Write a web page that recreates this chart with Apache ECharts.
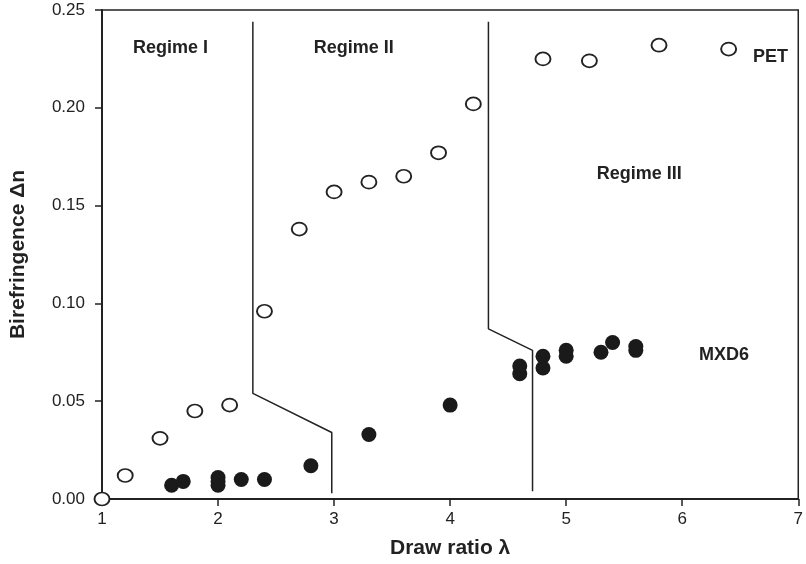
<!DOCTYPE html>
<html>
<head>
<meta charset="utf-8">
<script src="https://cdn.jsdelivr.net/npm/echarts@6/dist/echarts.min.js"></script>
<style>html,body{margin:0;padding:0;background:#fff}#c{width:806px;height:564px}</style>
</head>
<body>
<div id="c"></div>
<script>
// PET (open circles): [draw ratio, birefringence]
const petData = [
  [1.0, 0.000], [1.2, 0.012], [1.5, 0.031], [1.8, 0.045], [2.1, 0.048],
  [2.4, 0.096], [2.7, 0.138], [3.0, 0.157], [3.3, 0.162], [3.6, 0.165],
  [3.9, 0.177], [4.2, 0.202], [4.8, 0.225], [5.2, 0.224], [5.8, 0.232], [6.4, 0.230]
];
// MXD6 (filled circles)
const mxd6Data = [
  [1.6, 0.007], [1.7, 0.009], [2.0, 0.007], [2.0, 0.009], [2.0, 0.011],
  [2.2, 0.010], [2.4, 0.010], [2.8, 0.017], [3.3, 0.033], [4.0, 0.048],
  [4.6, 0.064], [4.6, 0.068], [4.8, 0.067], [4.8, 0.073], [5.0, 0.073], [5.0, 0.076],
  [5.3, 0.075], [5.4, 0.080], [5.6, 0.076], [5.6, 0.078]
];
// Regime boundaries
const boundary1 = [[2.3, 0.244], [2.3, 0.054], [2.98, 0.034], [2.98, 0.003]];
const boundary2 = [[4.33, 0.244], [4.33, 0.087], [4.71, 0.076], [4.71, 0.004]];
// Annotations [x, y, text]
const annotations = [
  [1.59, 0.2305, 'Regime I'], [3.17, 0.2305, 'Regime II'], [5.63, 0.166, 'Regime III'],
  [6.76, 0.2262, 'PET'], [6.36, 0.0735, 'MXD6']
];
const xTicks = [1, 2, 3, 4, 5, 6, 7];
const yTicks = [0, 0.05, 0.10, 0.15, 0.20, 0.25];

const chart = echarts.init(document.getElementById('c'));
const font = 'Liberation Sans, Arial, sans-serif';
chart.setOption({
  animation: false,
  backgroundColor: '#fff',
  grid: { left: 101, right: 3, top: 10, bottom: 63, show: true, borderColor: '#222', borderWidth: 1.5 },
  xAxis: {
    type: 'value', min: xTicks[0], max: xTicks[xTicks.length - 1], interval: 1,
    name: 'Draw ratio λ', nameLocation: 'middle', nameGap: 39,
    nameTextStyle: { fontFamily: font, fontWeight: 'bold', fontSize: 21, color: '#222' },
    axisLine: { lineStyle: { color: '#222', width: 2 } },
    axisTick: { show: true, length: 7, lineStyle: { color: '#222', width: 1.5 } },
    axisLabel: { fontFamily: font, fontSize: 17, color: '#222', margin: 12 },
    splitLine: { show: false }
  },
  yAxis: {
    type: 'value', min: yTicks[0], max: yTicks[yTicks.length - 1], interval: 0.05,
    name: 'Birefringence Δn', nameLocation: 'middle', nameGap: 73, nameRotate: 90,
    nameTextStyle: { fontFamily: font, fontWeight: 'bold', fontSize: 21, color: '#222' },
    axisLine: { lineStyle: { color: '#222', width: 2 } },
    axisTick: { show: true, length: 7, lineStyle: { color: '#222', width: 1.5 } },
    axisLabel: { fontFamily: font, fontSize: 17, color: '#222', margin: 17, formatter: v => v.toFixed(2) },
    splitLine: { show: false }
  },
  series: [
    { type: 'line', data: boundary1, symbol: 'none', lineStyle: { color: '#222', width: 1.5 }, z: 1 },
    { type: 'line', data: boundary2, symbol: 'none', lineStyle: { color: '#222', width: 1.5 }, z: 1 },
    { type: 'scatter', data: petData, symbol: 'circle', symbolSize: [15, 13], clip: false,
      itemStyle: { color: '#fff', borderColor: '#222', borderWidth: 1.8, opacity: 1 }, z: 3 },
    { type: 'scatter', data: mxd6Data, symbol: 'circle', symbolSize: [15, 15], clip: false,
      itemStyle: { color: '#1a1a1a', opacity: 1 }, z: 3 },
    { type: 'scatter', data: annotations.map(a => ({ value: [a[0], a[1]], name: a[2] })),
      symbolSize: 0, silent: true, itemStyle: { opacity: 1 },
      label: { show: true, position: 'inside', formatter: p => p.name, fontFamily: font,
        fontWeight: 'bold', fontSize: 18, color: '#222' } }
  ]
});
</script>
</body>
</html>
